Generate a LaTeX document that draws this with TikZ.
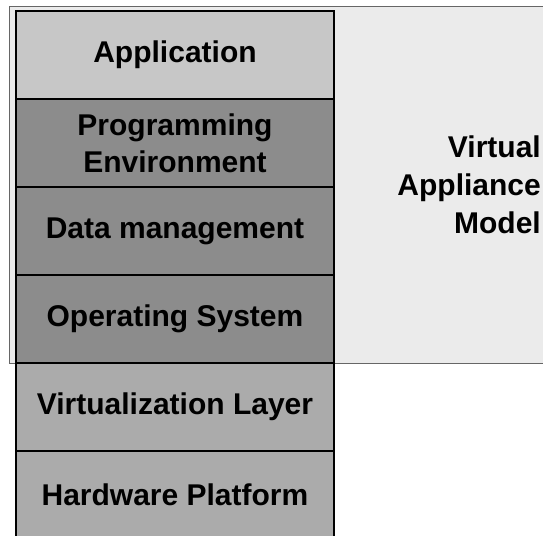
\documentclass[tikz,border=0pt]{standalone}
\usepackage{fontspec}
\setmainfont{Liberation Sans}
\usetikzlibrary{positioning}

\definecolor{applayer}{gray}{0.78}
\definecolor{oslayer}{gray}{0.55}
\definecolor{hwlayer}{gray}{0.67}
\definecolor{vamarea}{gray}{0.92}

\tikzset{
  layer/.style={draw=black,line width=1.3pt,minimum width=318pt,minimum height=88pt,
    inner sep=0pt,align=center,font=\bfseries\fontsize{30}{37}\selectfont},
  vamtext/.style={align=right,inner sep=0pt,font=\bfseries\fontsize{30}{38}\selectfont}
}

\begin{document}
\begin{tikzpicture}[x=1pt,y=-1pt,node distance=88pt,on grid]
\useasboundingbox (0,0) rectangle (543,535);
\clip (0,0) rectangle (543,535);
% virtual appliance area
\draw[fill=vamarea,draw=black!60,line width=0.6pt] (9,6) rectangle (560,363);
\node[vamtext,anchor=east] (vam) at (541,185) {Virtual\\Appliance\\Model};
% the layers
\node[layer,fill=applayer] (app) at (175,55) {Application};
\node[layer,fill=oslayer] (prog) [below=of app] {Programming\\Environment};
\node[layer,fill=oslayer] (data) [below=of prog] {Data management};
\node[layer,fill=oslayer] (os) [below=of data] {Operating System};
\node[layer,fill=hwlayer] (virt) [below=of os] {Virtualization Layer};
\node[layer,fill=hwlayer] (hw) [below=of virt] {Hardware Platform};
\end{tikzpicture}
\end{document}
